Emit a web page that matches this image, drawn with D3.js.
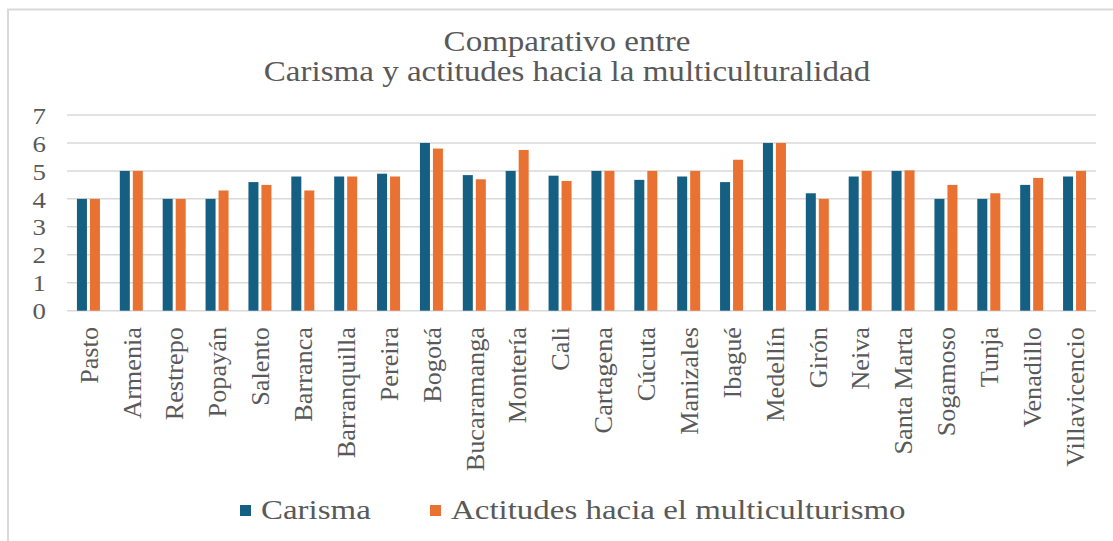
<!DOCTYPE html>
<html>
<head>
<meta charset="utf-8">
<script src="https://cdn.jsdelivr.net/npm/d3@7"></script>
<style>
  html, body { margin: 0; padding: 0; background: #ffffff; }
  svg { display: block; }
  text { font-family: "Liberation Serif", "Times New Roman", serif; fill: #595959; }
</style>
</head>
<body>
<svg id="chart" width="1113" height="541"></svg>
<script>
const categories = ["Pasto","Armenia","Restrepo","Popayán","Salento","Barranca","Barranquilla","Pereira","Bogotá","Bucaramanga","Montería","Cali","Cartagena","Cúcuta","Manizales","Ibagué","Medellín","Girón","Neiva","Santa Marta","Sogamoso","Tunja","Venadillo","Villavicencio"];
const carisma = [4.0,5.0,4.0,4.0,4.6,4.8,4.8,4.9,6.0,4.85,5.0,4.83,5.0,4.68,4.8,4.6,6.0,4.2,4.8,5.0,4.0,4.0,4.5,4.8];
const actitudes = [4.0,5.0,4.0,4.3,4.5,4.3,4.8,4.8,5.8,4.7,5.75,4.64,5.0,5.0,5.0,5.4,6.0,4.0,5.0,5.02,4.5,4.2,4.75,5.0];
const seriesNames = ["Carisma","Actitudes hacia el multiculturismo"];
const yTicks = [0,1,2,3,4,5,6,7];
const titleLines = ["Comparativo entre","Carisma y actitudes hacia la multiculturalidad"];

const colors = ["#156082","#E97132"];
const svg = d3.select("#chart");
const W = 1113, H = 541;
const plot = {left: 67, right: 1096, top: 115, bottom: 310.7};

// chart border (top and left edges visible)
svg.append("path")
  .attr("d", `M8,${H} L8,9.5 L${W},9.5`)
  .attr("fill", "none").attr("stroke", "#d9d9d9").attr("stroke-width", 2);

// title
titleLines.forEach((t, i) => {
  svg.append("text")
    .attr("transform", `translate(567,${51 + i * 30}) scale(1.14,1)`)
    .attr("text-anchor", "middle")
    .attr("font-size", 29)
    .text(t);
});

const y = d3.scaleLinear().domain([0, 7]).range([plot.bottom, plot.top]);
const x0 = d3.scaleBand().domain(categories).range([plot.left, plot.right])
  .paddingInner(0.4636).paddingOuter(0.2318);
const x1 = d3.scaleBand().domain([0, 1]).range([0, x0.bandwidth()]).paddingInner(0.23);

// gridlines
svg.append("g").selectAll("line").data(yTicks).join("line")
  .attr("x1", plot.left).attr("x2", plot.right)
  .attr("y1", d => y(d)).attr("y2", d => y(d))
  .attr("stroke", "#d9d9d9").attr("stroke-width", 1.5);

// y tick labels
svg.append("g").selectAll("text").data(yTicks).join("text")
  .attr("transform", d => `translate(46,${y(d)}) scale(1.12,1)`)
  .attr("text-anchor", "end")
  .attr("dy", "0.36em")
  .attr("font-size", 24)
  .text(d => d);

// bars
const data = categories.map((c, i) => ({c, vals: [carisma[i], actitudes[i]]}));
const groups = svg.append("g").selectAll("g").data(data).join("g")
  .attr("transform", d => `translate(${x0(d.c)},0)`);
groups.selectAll("rect").data(d => d.vals.map((v, k) => ({v, k}))).join("rect")
  .attr("x", d => x1(d.k))
  .attr("width", x1.bandwidth())
  .attr("y", d => y(d.v))
  .attr("height", d => y(0) - y(d.v))
  .attr("fill", d => colors[d.k]);

// x labels (rotated)
svg.append("g").selectAll("text").data(categories).join("text")
  .attr("transform", d => `translate(${x0(d) + x0.bandwidth() / 2 + 1},327) rotate(-90) scale(1.05,1)`)
  .attr("text-anchor", "end")
  .attr("dy", "0.33em")
  .attr("font-size", 25)
  .text(d => d);

// legend
const legendX = [240, 430];
seriesNames.forEach((n, i) => {
  svg.append("rect").attr("x", legendX[i]).attr("y", 505).attr("width", 11).attr("height", 11)
    .attr("fill", colors[i]);
  svg.append("text")
    .attr("transform", `translate(${legendX[i] + 21},519) scale(1.22,1)`)
    .attr("font-size", 27)
    .text(n);
});
</script>
</body>
</html>
